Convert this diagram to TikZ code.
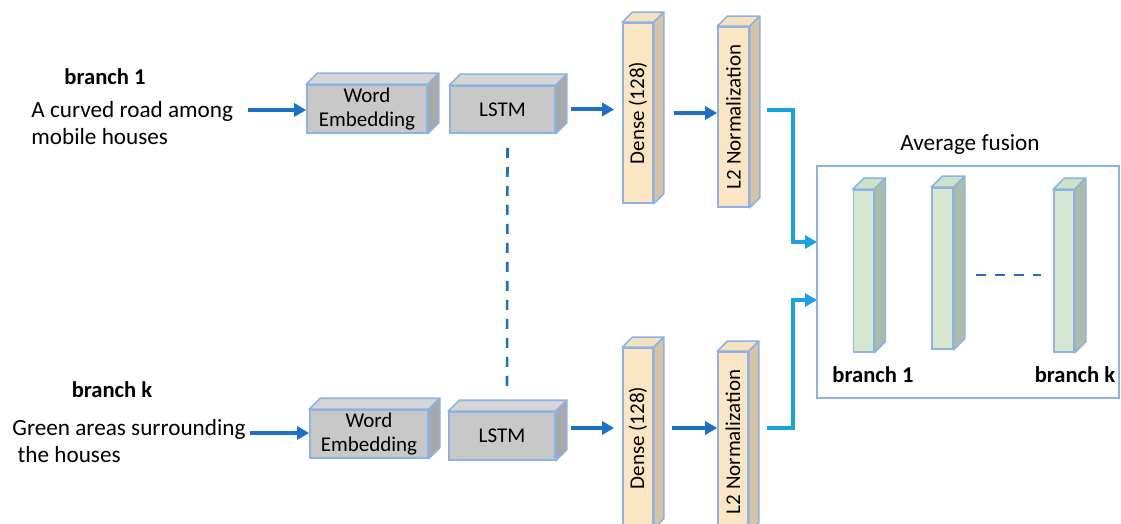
\documentclass[tikz,border=0pt]{standalone}
\usepackage{fontspec}
\setmainfont{Carlito}
\usetikzlibrary{arrows.meta}

\definecolor{arrowblue}{RGB}{28,112,200}
\definecolor{linkblue}{RGB}{27,160,224}
\definecolor{edgeblue}{RGB}{141,178,228}
\definecolor{grayfront}{RGB}{200,200,200}
\definecolor{graytop}{RGB}{214,214,214}
\definecolor{grayside}{RGB}{168,168,168}
\definecolor{beigefront}{RGB}{252,229,195}
\definecolor{beigetop}{RGB}{246,226,190}
\definecolor{beigeside}{RGB}{214,196,164}
\definecolor{greenfront}{RGB}{214,232,210}
\definecolor{greentop}{RGB}{206,226,200}
\definecolor{greenside}{RGB}{170,189,168}

\tikzset{
  flow/.style={draw=arrowblue, line width=2pt, -{Triangle[length=6pt,width=6.5pt]}},
  link/.style={draw=linkblue, line width=2pt, -{Triangle[length=6pt,width=6.5pt]}},
  front/.style={draw=edgeblue, line width=0.8pt, inner sep=0pt, align=center,
    font=\fontsize{10.5}{12}\selectfont},
  txt/.style={align=left, font=\fontsize{11.6}{13.5}\selectfont, inner sep=0pt},
  bold/.style={font=\fontsize{11.3}{13}\selectfont\bfseries, inner sep=0pt},
}

\begin{document}
\begin{tikzpicture}[x=0.5pt, y=-0.5pt]
        \useasboundingbox (0,0) rectangle (1121,524);
        % input texts
        \node[bold] (b1) at (105,77) {branch 1};
        \node[txt, anchor=west] (t1) at (31,123) {A curved road among\\mobile houses};
        \node[bold] (bk) at (112,390) {branch k};
        \node[txt, anchor=west] (tk) at (12,441) {Green areas surrounding\\\ the houses};
        % gray blocks
        \node[front, fill=grayfront, minimum width=60pt, minimum height=24pt] (we1) at (367,109) {Word\\Embedding};
        \node[front, fill=grayfront, minimum width=52.5pt, minimum height=23.5pt] (ls1) at (502.5,109.5) {LSTM};
        \node[front, fill=grayfront, minimum width=59pt, minimum height=24pt] (we2) at (369,434) {Word\\Embedding};
        \node[front, fill=grayfront, minimum width=53pt, minimum height=24pt] (ls2) at (502,436) {LSTM};
        % dense and normalization
        \node[front, fill=beigefront, minimum width=15pt, minimum height=90pt] (de1) at (638,113) {\rotatebox{90}{Dense (128)}};
        \node[front, fill=beigefront, minimum width=15.5pt, minimum height=90pt] (l21) at (733.5,117) {\rotatebox{90}{L2 Normalization}};
        \node[front, fill=beigefront, minimum width=15pt, minimum height=90pt] (de2) at (638,438) {\rotatebox{90}{Dense (128)}};
        \node[front, fill=beigefront, minimum width=15pt, minimum height=90pt] (l22) at (733,442) {\rotatebox{90}{L2 Normalization}};
        % fusion
        \node[draw=edgeblue, line width=0.8pt, minimum width=151pt, minimum height=116pt] (fus) at (968,282) {};
        \node[txt] (avg) at (970,145) {Average fusion};
        \node[front, fill=greenfront, minimum width=10pt, minimum height=81pt] (g1) at (863.5,271) {};
        \node[front, fill=greenfront, minimum width=10.5pt, minimum height=80.5pt] (g2) at (942.5,268.5) {};
        \node[front, fill=greenfront, minimum width=10pt, minimum height=81pt] (g3) at (1064,271) {};
        \node[bold] (gb1) at (873,375) {branch 1};
        \node[bold] (gbk) at (1075,375) {branch k};
        % depth faces
        \foreach \n/\c/\d in {we1/gray/11, ls1/gray/11, we2/gray/11, ls2/gray/11,
            de1/beige/10, l21/beige/10, de2/beige/10, l22/beige/10,
            g1/green/11, g2/green/11, g3/green/11}{
          \draw[draw=edgeblue, line width=0.8pt, fill=\c top, line join=round]
            (\n.north west) -- ([shift={(\d,-\d)}]\n.north west) -- ([shift={(\d,-\d)}]\n.north east) -- (\n.north east) -- cycle;
          \draw[draw=edgeblue, line width=0.8pt, fill=\c side, line join=round]
            (\n.north east) -- ([shift={(\d,-\d)}]\n.north east) -- ([shift={(\d,-\d)}]\n.south east) -- (\n.south east) -- cycle;
        }
        % arrows, branch 1
        \coordinate (s1) at (248,110);
        \draw[flow] (s1) -- (s1 -| we1.west);
        \draw[flow, shorten >=4pt] ([shift={(15,0)}]ls1.east) -- (ls1.east -| de1.west);
        \draw[flow] ([shift={(20,0)}]de1.east) -- (de1.east -| l21.west);
        \coordinate (o1) at (767,110);
        \coordinate (in1) at (817,242);
        \draw[link] (o1) -| ([shift={(-24,0)}]in1) -- (in1);
        % arrows, branch k
        \coordinate (sk) at (250,433);
        \draw[flow] (sk) -- (sk -| we2.west);
        \draw[flow, shorten >=4pt] ([shift={(15,-8)}]ls2.east) -- ([shift={(0,-8)}]ls2.east -| de2.west);
        \draw[flow] ([shift={(18,-10)}]de2.east) -- ([shift={(0,-10)}]de2.east -| l22.west);
        \coordinate (ok) at (767,428);
        \coordinate (ink) at (817,300);
        \draw[link] (ok) -| ([shift={(-24,0)}]ink) -- (ink);
        % dashed
        \draw[arrowblue, line width=1.3pt, dash pattern=on 5pt off 4.5pt]
          ([shift={(5,14)}]ls1.south) -- ([shift={(5,-22)}]ls2.north);
        \draw[arrowblue, line width=1.3pt, dash pattern=on 5pt off 4.5pt]
          ([shift={(22,6.5)}]g2.east) -- ([shift={(-12,4)}]g3.west);
\end{tikzpicture}
\end{document}
